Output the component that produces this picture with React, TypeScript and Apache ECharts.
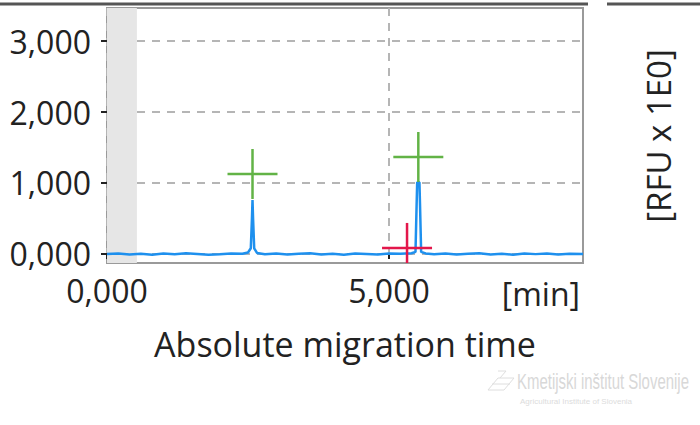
import React, { useEffect, useRef } from "react";
import * as echarts from "echarts";

// Electropherogram trace: migration time [min] and signal (RFU, thousands-style labels)
const timeMin = [
  0.0, 0.2, 0.4, 0.6, 0.8, 1.0, 1.2, 1.4, 1.6, 1.8, 2.0, 2.2, 2.4, 2.5, 2.55, 2.57, 2.58, 2.59, 2.61, 2.66,
  2.8, 3.0, 3.2, 3.4, 3.6, 3.8, 4.0, 4.2, 4.4, 4.6, 4.8, 5.0, 5.2, 5.4, 5.47, 5.49, 5.5, 5.54, 5.55, 5.57,
  5.65, 5.8, 6.0, 6.2, 6.4, 6.6, 6.8, 7.0, 7.2, 7.4, 7.6, 7.8, 8.0, 8.2, 8.44,
];
const signal = [
  0.0, 0.008, -0.006, 0.004, -0.01, 0.006, -0.004, 0.01, 0.0, -0.012, -0.004, 0.006, 0.002, 0.02, 0.08, 0.5, 0.76, 0.5, 0.08, 0.015,
  -0.004, 0.008, -0.006, 0.004, 0.01, -0.008, 0.002, -0.01, 0.006, 0.0, -0.006, 0.008, 0.004, 0.01, 0.03, 0.7, 1.01, 1.01, 0.7, 0.03,
  0.008, -0.004, 0.006, -0.008, 0.004, 0.01, -0.006, 0.002, -0.01, 0.006, -0.002, 0.008, -0.006, 0.004, 0.0,
];
const greenMarkers = [
  [2.58, 1.127],
  [5.52, 1.366],
];
const redMarkers = [[5.32, 0.085]];
const xTicks = [0, 5];
const yTicks = [0, 1, 2, 3];
const excludedRange = [0, 0.53];

const fmt = (v: number) => v.toFixed(3).replace(".", ",");

export default function App() {
  const ref = useRef<HTMLDivElement>(null);
  useEffect(() => {
    const chart = echarts.init(ref.current!, null, { renderer: "svg" });
    const font = "'Open Sans', 'Noto Sans', sans-serif";
    const crossRender = (color: string) => (params: any, api: any) => {
      const c = api.coord([api.value(0), api.value(1)]);
      const h = 25;
      return {
        type: "group",
        children: [
          { type: "line", shape: { x1: c[0] - h, y1: c[1], x2: c[0] + h, y2: c[1] }, style: { stroke: color, lineWidth: 2.5 } },
          { type: "line", shape: { x1: c[0], y1: c[1] - h, x2: c[0], y2: c[1] + h }, style: { stroke: color, lineWidth: 2.5 } },
        ],
      };
    };
    const dashed = { color: "#b5b5b5", width: 2, type: [8, 7] as any };
    chart.setOption({
      animation: false,
      backgroundColor: "#ffffff",
      textStyle: { fontFamily: font },
      grid: {
        left: 107,
        right: 117,
        top: 8,
        bottom: 162,
        show: true,
        borderColor: "#9a9a9a",
        borderWidth: 2,
        backgroundColor: "#ffffff",
      },
      xAxis: {
        type: "value",
        min: 0,
        max: 8.44,
        axisLine: { show: false },
        axisTick: { show: true, customValues: xTicks, length: 5, lineStyle: { color: "#222", width: 2 } },
        axisLabel: { customValues: xTicks, formatter: fmt, fontSize: 32, color: "#222", margin: 11, fontFamily: font },
        splitLine: { show: true, lineStyle: dashed },
        name: "Absolute migration time",
        nameLocation: "middle",
        nameGap: 64,
        nameTextStyle: { fontSize: 34, color: "#222", fontFamily: font },
      },
      yAxis: {
        type: "value",
        min: -0.127,
        max: 3.465,
        axisLine: { show: false },
        axisTick: { show: true, customValues: yTicks, length: 6, lineStyle: { color: "#222", width: 2 } },
        axisLabel: { customValues: yTicks, formatter: fmt, fontSize: 32, color: "#222", margin: 16, fontFamily: font },
        splitLine: { show: true, lineStyle: dashed },
      },
      series: [
        {
          type: "line",
          data: timeMin.map((t, i) => [t, signal[i]]),
          showSymbol: false,
          lineStyle: { color: "#1e90ee", width: 2.5 },
          itemStyle: { color: "#1e90ee" },
          z: 3,
          markArea: {
            silent: true,
            itemStyle: { color: "#e6e6e6" },
            data: [[{ xAxis: excludedRange[0] }, { xAxis: excludedRange[1] }]],
          },
        },
        { type: "custom", data: greenMarkers, renderItem: crossRender("#62b346"), clip: true, z: 4 },
        { type: "custom", data: redMarkers, renderItem: crossRender("#e3174b"), clip: true, z: 4 },
      ],
      graphic: [
        { type: "line", shape: { x1: 0, y1: 4, x2: 588, y2: 4 }, style: { stroke: "#555", lineWidth: 3 } },
        { type: "line", shape: { x1: 607, y1: 4, x2: 700, y2: 4 }, style: { stroke: "#555", lineWidth: 3 } },
        {
          type: "text",
          x: 580,
          y: 293,
          style: { text: "[min]", font: `32px ${font}`, fill: "#222", align: "right", verticalAlign: "middle" },
        },
        {
          type: "text",
          x: 658,
          y: 136,
          rotation: Math.PI / 2,
          style: { text: "[RFU x 1E0]", font: `33px ${font}`, fill: "#222", align: "center", verticalAlign: "middle" },
        },
        {
          type: "text",
          x: 517,
          y: 381,
          scaleX: 0.68,
          style: {
            text: "Kmetijski inštitut Slovenije",
            font: `22px 'Liberation Sans', sans-serif`,
            fill: "#d8d8d8",
            align: "left",
            verticalAlign: "middle",
          },
        },
        {
          type: "text",
          x: 520,
          y: 401,
          style: {
            text: "Agricultural Institute of Slovenia",
            font: `8px 'Liberation Sans', sans-serif`,
            fill: "#dcdcdc",
            align: "left",
            verticalAlign: "middle",
          },
        },
        { type: "polyline", shape: { points: [[488, 390], [498, 378], [514, 378], [504, 390], [488, 390]] }, style: { stroke: "#dedede", fill: "none", lineWidth: 1 } },
        { type: "polyline", shape: { points: [[492, 384], [510, 384]] }, style: { stroke: "#dedede", lineWidth: 1 } },
        { type: "polyline", shape: { points: [[498, 371], [506, 371], [500, 378]] }, style: { stroke: "#dedede", fill: "none", lineWidth: 1 } },
      ],
    });
    return () => chart.dispose();
  }, []);
  return <div ref={ref} style={{ position: "fixed", left: 0, top: 0, width: 700, height: 425 }} />;
}
